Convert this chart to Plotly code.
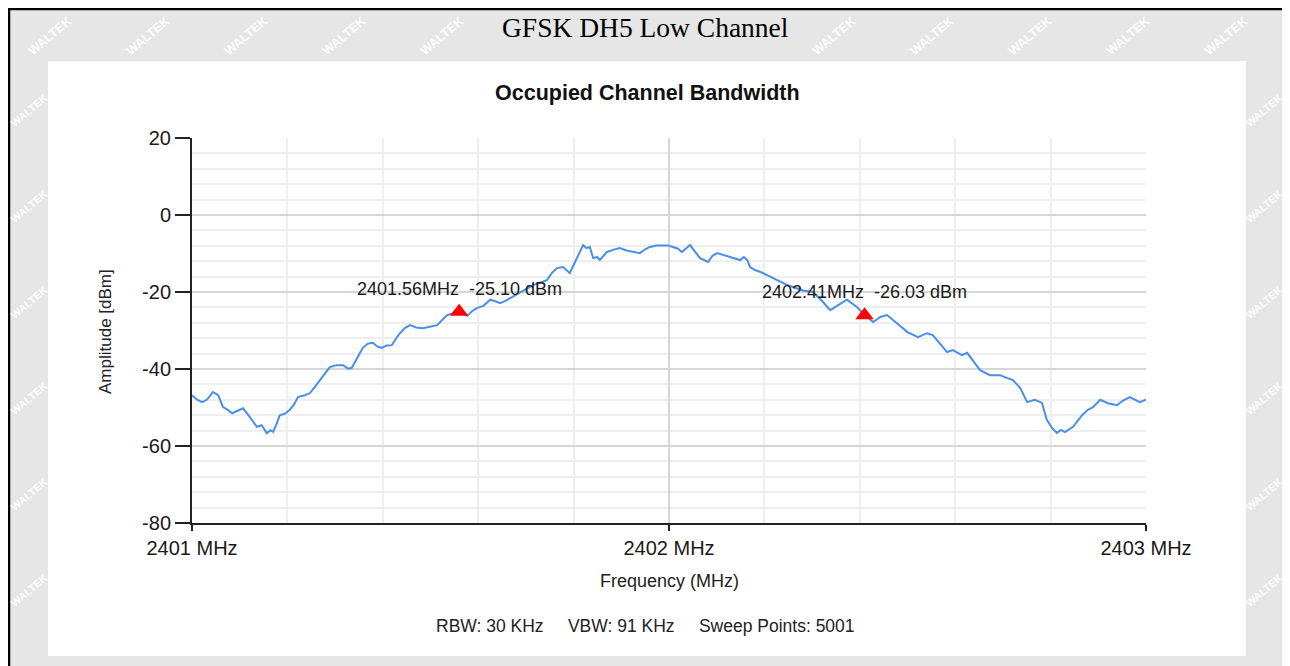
import plotly.graph_objects as go

# Spectrum trace (MHz, dBm)
freq = [
    2401.000, 2401.010, 2401.021, 2401.031, 2401.044, 2401.055, 2401.065, 2401.075, 2401.084, 2401.095,
    2401.107, 2401.117, 2401.126, 2401.136, 2401.146, 2401.157, 2401.164, 2401.170, 2401.177, 2401.184,
    2401.195, 2401.205, 2401.214, 2401.222, 2401.235, 2401.247, 2401.258, 2401.268, 2401.279, 2401.289,
    2401.303, 2401.317, 2401.327, 2401.335, 2401.347, 2401.358, 2401.369, 2401.379, 2401.389, 2401.398,
    2401.408, 2401.419, 2401.428, 2401.436, 2401.447, 2401.457, 2401.470, 2401.484, 2401.499, 2401.514,
    2401.525, 2401.535, 2401.548, 2401.560, 2401.569, 2401.577, 2401.587, 2401.597, 2401.611, 2401.625,
    2401.636, 2401.646, 2401.657, 2401.667, 2401.680, 2401.693, 2401.704, 2401.715, 2401.730, 2401.744,
    2401.755, 2401.765, 2401.778, 2401.792, 2401.803, 2401.812, 2401.820, 2401.827, 2401.834, 2401.841,
    2401.849, 2401.855, 2401.870, 2401.884, 2401.897, 2401.911, 2401.925, 2401.939, 2401.950, 2401.960,
    2401.974, 2401.987, 2401.998, 2402.008, 2402.018, 2402.027, 2402.036, 2402.044, 2402.055, 2402.065,
    2402.082, 2402.091, 2402.101, 2402.115, 2402.128, 2402.139, 2402.149, 2402.157, 2402.164, 2402.170,
    2402.180, 2402.192, 2402.205, 2402.219, 2402.233, 2402.246, 2402.260, 2402.281, 2402.302, 2402.320,
    2402.338, 2402.356, 2402.373, 2402.394, 2402.410, 2402.428, 2402.443, 2402.457, 2402.470, 2402.484,
    2402.500, 2402.522, 2402.541, 2402.553, 2402.568, 2402.583, 2402.595, 2402.614, 2402.625, 2402.638,
    2402.652, 2402.673, 2402.694, 2402.708, 2402.721, 2402.736, 2402.751, 2402.767, 2402.782, 2402.792,
    2402.803, 2402.813, 2402.822, 2402.830, 2402.847, 2402.866, 2402.878, 2402.889, 2402.904, 2402.920,
    2402.939, 2402.952, 2402.966, 2402.987, 2403.000,
]
amplitude = [
    -46.8, -47.9, -48.6, -48.0, -46.0, -46.8, -49.9, -50.6, -51.5, -50.9,
    -50.2, -51.8, -53.2, -55.0, -54.6, -56.7, -55.9, -56.3, -54.4, -52.0,
    -51.6, -50.6, -49.2, -47.3, -46.9, -46.3, -44.6, -42.9, -41.0, -39.5,
    -39.0, -39.0, -39.9, -39.7, -37.0, -34.5, -33.4, -33.2, -34.2, -34.5,
    -33.9, -33.8, -32.0, -30.7, -29.3, -28.6, -29.2, -29.4, -29.0, -28.6,
    -27.2, -26.0, -25.5, -25.1, -25.6, -26.2, -25.0, -24.2, -23.6, -22.0,
    -22.4, -22.9, -22.3, -21.6, -20.9, -19.8, -19.0, -18.2, -17.6, -16.9,
    -15.0, -13.8, -13.5, -15.1, -12.2, -9.8, -7.8, -8.6, -8.3, -11.2,
    -10.9, -11.7, -9.6, -9.0, -8.6, -9.2, -9.6, -9.9, -8.9, -8.3,
    -7.9, -7.8, -7.9, -8.3, -8.7, -9.6, -8.6, -7.8, -9.6, -11.2,
    -12.2, -10.6, -9.9, -10.4, -10.9, -11.2, -11.7, -10.9, -11.7, -13.5,
    -14.3, -14.8, -15.6, -16.6, -17.4, -18.1, -18.7, -19.6, -20.0, -22.2,
    -24.7, -23.2, -22.0, -23.9, -26.0, -27.8, -26.5, -26.0, -27.3, -28.8,
    -30.4, -31.7, -30.7, -31.2, -33.5, -35.6, -35.1, -36.4, -35.8, -37.9,
    -40.3, -41.6, -41.6, -42.3, -42.9, -44.9, -48.6, -48.0, -48.8, -53.2,
    -55.3, -56.6, -55.8, -56.4, -55.0, -52.0, -50.6, -49.9, -48.0, -48.9,
    -49.4, -48.2, -47.3, -48.6, -48.0,
]

# OBW markers
marker_freq = [2401.56, 2402.41]
marker_amp = [-25.10, -26.03]

y_ticks = [-80, -60, -40, -20, 0, 20]
x_ticks = [2401, 2402, 2403]
x_tick_labels = ["2401 MHz", "2402 MHz", "2403 MHz"]

# the page body keeps an 8px margin, so the figure is 8px smaller and
# every reference pixel is shifted by that amount
OFF = 8
W, H = 1290 - OFF, 666 - OFF
SANS = "Liberation Sans, Arial, sans-serif"


def px(x):
    return (x - OFF) / W


def py(y):
    return 1 - (y - OFF) / H


def page_text(x, y, text, size, family=SANS, color="#222", angle=0):
    return dict(x=px(x), y=py(y), xref="paper", yref="paper", showarrow=False,
                xanchor="center", yanchor="middle", textangle=angle, text=text,
                font=dict(family=family, size=size, color=color))


fig = go.Figure()
fig.add_trace(go.Scatter(x=freq, y=amplitude, mode="lines",
                         line=dict(color="#4a8ee8", width=2), hoverinfo="skip"))
fig.add_trace(go.Scatter(x=marker_freq, y=marker_amp, mode="markers",
                         marker=dict(symbol="triangle-up", size=16, color="#ff0000"),
                         hoverinfo="skip"))

annotations = []
for f, a in zip(marker_freq, marker_amp):
    annotations.append(dict(x=f, y=a, xref="x", yref="y", showarrow=False, yshift=23,
                            text=f"{f:.2f}MHz\u00a0 {a:.2f} dBm",
                            font=dict(family=SANS, size=18, color="#1a1a1a")))

# page texts
annotations += [
    page_text(645, 28, "GFSK DH5 Low Channel", 27.5,
              family="Liberation Serif, Times New Roman, serif", color="black"),
    page_text(647, 93, "<b>Occupied Channel Bandwidth</b>", 21.5, color="#111"),
    page_text(105, 332, "Amplitude [dBm]", 17, angle=-90),
    page_text(669, 581, "Frequency (MHz)", 18),
    page_text(645, 626, "RBW: 30 KHz" + "\u00a0" * 5 + "VBW: 91 KHz" + "\u00a0" * 5
              + "Sweep Points: 5001", 17.5),
]

# watermark in the grey frame, kept fully inside the frame strips
wm_color = "rgba(255,255,255,0.9)"
for x in range(50, 1250, 98):
    if 460 < x < 830:
        continue
    annotations.append(page_text(x, 36, "<b>WALTEK</b>", 12.5, color=wm_color, angle=-40))
for y in range(110, 640, 96):
    annotations.append(page_text(29, y, "<b>WALTEK</b>", 10.5, color=wm_color, angle=-40))
    annotations.append(page_text(1264, y, "<b>WALTEK</b>", 10.5, color=wm_color, angle=-40))

fig.update_layout(
    width=W, height=H,
    margin=dict(l=0, r=0, t=0, b=0, pad=0),
    paper_bgcolor="#e6e6e6",
    plot_bgcolor="white",
    showlegend=False,
    annotations=annotations,
    shapes=[
        dict(type="rect", xref="paper", yref="paper", x0=px(48), x1=px(1246), y0=py(656), y1=py(61),
             fillcolor="white", line=dict(width=0), layer="below"),
        dict(type="rect", xref="paper", yref="paper", x0=px(9), x1=px(1287), y0=-0.02, y1=py(9),
             fillcolor="rgba(0,0,0,0)", line=dict(color="black", width=2.5), layer="above"),
    ],
    xaxis=dict(
        domain=[px(192), px(1146)], range=[2401, 2403], automargin=False,
        tickvals=x_ticks, ticktext=x_tick_labels,
        ticks="outside", ticklen=6, tickwidth=1.5, tickcolor="#222",
        tickfont=dict(family=SANS, size=20, color="#1a1a1a"),
        showline=True, linecolor="#222", linewidth=2,
        showgrid=True, gridcolor="#d6d6d6", gridwidth=1.5,
        minor=dict(dtick=0.2, tick0=2401, showgrid=True, gridcolor="#eeeeee", gridwidth=1.5),
        zeroline=False,
    ),
    yaxis=dict(
        domain=[py(523), py(138)], range=[-80, 20], automargin=False,
        tickvals=y_ticks, ticktext=[str(v) for v in y_ticks],
        ticks="outside", ticklen=15, tickwidth=1.5, tickcolor="#222",
        tickfont=dict(family=SANS, size=20, color="#1a1a1a"),
        showline=True, linecolor="#222", linewidth=2,
        showgrid=True, gridcolor="#d6d6d6", gridwidth=1.5,
        minor=dict(dtick=4, tick0=0, showgrid=True, gridcolor="#eeeeee", gridwidth=1.5),
        zeroline=False,
    ),
)

fig.write_html("out.html")
